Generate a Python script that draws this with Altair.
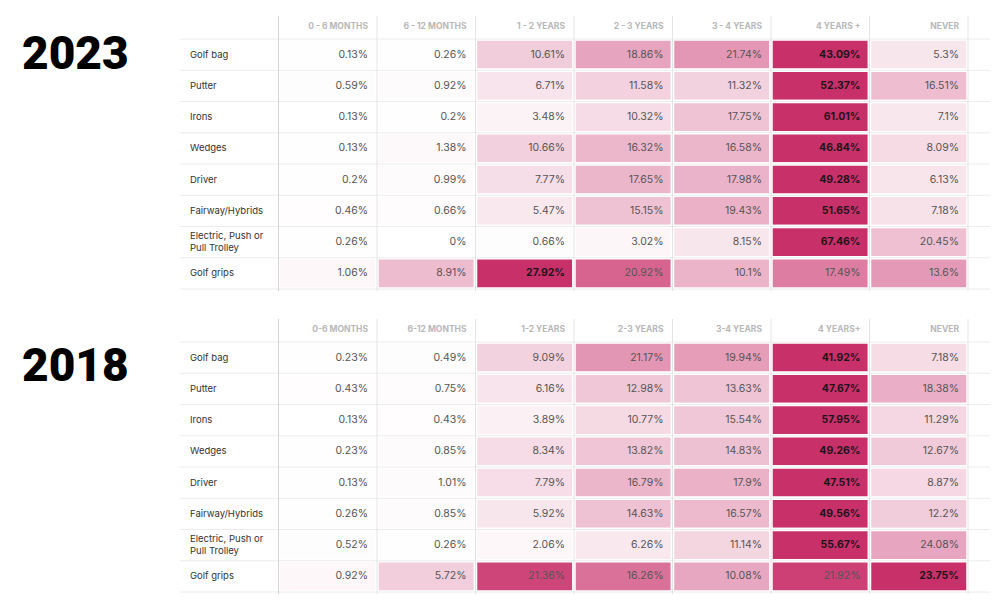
import altair as alt
import pandas as pd

# ---------------- data ----------------
items = ["Golf bag", "Putter", "Irons", "Wedges", "Driver", "Fairway/Hybrids",
         "Electric, Push or Pull Trolley", "Golf grips"]
item_labels = ["Golf bag", "Putter", "Irons", "Wedges", "Driver", "Fairway/Hybrids",
               "Electric, Push or\nPull Trolley", "Golf grips"]

cols_2023 = ["0 - 6 MONTHS", "6 - 12 MONTHS", "1 - 2 YEARS", "2 - 3 YEARS",
             "3 - 4 YEARS", "4 YEARS +", "NEVER"]
cols_2018 = ["0-6 MONTHS", "6-12 MONTHS", "1-2 YEARS", "2-3 YEARS",
             "3-4 YEARS", "4 YEARS+", "NEVER"]

# 2023 (percent of respondents)
golf_bag_2023 = [0.13, 0.26, 10.61, 18.86, 21.74, 43.09, 5.3]
putter_2023 = [0.59, 0.92, 6.71, 11.58, 11.32, 52.37, 16.51]
irons_2023 = [0.13, 0.2, 3.48, 10.32, 17.75, 61.01, 7.1]
wedges_2023 = [0.13, 1.38, 10.66, 16.32, 16.58, 46.84, 8.09]
driver_2023 = [0.2, 0.99, 7.77, 17.65, 17.98, 49.28, 6.13]
fairway_2023 = [0.46, 0.66, 5.47, 15.15, 19.43, 51.65, 7.18]
trolley_2023 = [0.26, 0, 0.66, 3.02, 8.15, 67.46, 20.45]
grips_2023 = [1.06, 8.91, 27.92, 20.92, 10.1, 17.49, 13.6]

# 2018
golf_bag_2018 = [0.23, 0.49, 9.09, 21.17, 19.94, 41.92, 7.18]
putter_2018 = [0.43, 0.75, 6.16, 12.98, 13.63, 47.67, 18.38]
irons_2018 = [0.13, 0.43, 3.89, 10.77, 15.54, 57.95, 11.29]
wedges_2018 = [0.23, 0.85, 8.34, 13.82, 14.83, 49.26, 12.67]
driver_2018 = [0.13, 1.01, 7.79, 16.79, 17.9, 47.51, 8.87]
fairway_2018 = [0.26, 0.85, 5.92, 14.63, 16.57, 49.56, 12.2]
trolley_2018 = [0.52, 0.26, 2.06, 6.26, 11.14, 55.67, 24.08]
grips_2018 = [0.92, 5.72, 21.36, 16.26, 10.08, 21.92, 23.75]

rows_2023 = [golf_bag_2023, putter_2023, irons_2023, wedges_2023,
             driver_2023, fairway_2023, trolley_2023, grips_2023]
rows_2018 = [golf_bag_2018, putter_2018, irons_2018, wedges_2018,
             driver_2018, fairway_2018, trolley_2018, grips_2018]

# ---------------- layout / style ----------------
W = 788
H = 250
LABEL = "label"
FONT = "Inter"


def table(year, cols, rows, year_y):
    recs = []
    for it, vals in zip(items, rows):
        for c, v in zip(cols, vals):
            recs.append({"item": it, "col": c, "value": v, "txt": f"{v:g}%"})
    df = pd.DataFrame(recs)

    xdom = [LABEL] + cols
    xs = alt.Scale(domain=xdom, paddingInner=0, paddingOuter=0)
    ys = alt.Scale(domain=items, paddingInner=0, paddingOuter=0)

    base = (alt.Chart(df)
            .transform_joinaggregate(rowmax="max(value)", groupby=["item"])
            .transform_calculate(ratio="datum.value / datum.rowmax"))

    rect = base.mark_rect(stroke="white", strokeWidth=3.5).encode(
        x=alt.X("col:N", scale=xs, axis=None),
        y=alt.Y("item:N", scale=ys, axis=None),
        color=alt.Color("ratio:Q",
                        scale=alt.Scale(domain=[0, 1], range=["#ffffff", "#c8306a"],
                                        interpolate="rgb"),
                        legend=None),
    )

    vr = alt.Chart(pd.DataFrame({"col": cols})).mark_rule(strokeWidth=1).encode(
        x=alt.X("col:N", bandPosition=0, scale=xs, axis=None),
        y=alt.value(-23), y2=alt.value(H + 2),
        color=alt.condition(f"datum.col == '{cols[0]}'", alt.value("#d4d4d4"),
                            alt.value("#e4e4e4")),
    )
    vr_end = alt.Chart(pd.DataFrame({"col": [cols[-1]]})).mark_rule(
        strokeWidth=1, color="#e4e4e4").encode(
        x=alt.X("col:N", bandPosition=1, scale=xs, axis=None),
        y=alt.value(-23), y2=alt.value(H + 2),
    )

    hr = alt.Chart(pd.DataFrame({"item": items})).mark_rule(
        strokeWidth=1, color="#ececec").encode(
        y=alt.Y("item:N", bandPosition=0, scale=ys, axis=None),
        x=alt.value(0), x2=alt.value(W + 22),
    )
    hr_end = alt.Chart(pd.DataFrame({"item": [items[-1]]})).mark_rule(
        strokeWidth=1, color="#ececec").encode(
        y=alt.Y("item:N", bandPosition=1, scale=ys, axis=None),
        x=alt.value(0), x2=alt.value(W + 22),
    )

    header = alt.Chart(pd.DataFrame({"col": cols})).mark_text(
        align="right", baseline="middle", dx=-9, fontSize=8.5, fontWeight="bold",
        color="#b8b8b8", font=FONT).encode(
        x=alt.X("col:N", bandPosition=1, scale=xs, axis=None),
        y=alt.value(-13),
        text="col:N",
    )

    lab_df = pd.DataFrame({"item": items, "lab": item_labels,
                           "col": [LABEL] * len(items)})
    lab_df["multi"] = lab_df["lab"].str.contains("\n")
    labels_one = alt.Chart(lab_df[~lab_df["multi"]]).mark_text(
        align="left", baseline="middle", dx=10, fontSize=9.5, color="#333333",
        font=FONT).encode(
        x=alt.X("col:N", bandPosition=0, scale=xs, axis=None),
        y=alt.Y("item:N", scale=ys, axis=None),
        text="lab:N",
    )
    labels_two = alt.Chart(lab_df[lab_df["multi"]]).mark_text(
        align="left", baseline="middle", dx=10, dy=-6, fontSize=9.5, color="#333333",
        lineBreak="\n", lineHeight=12, font=FONT).encode(
        x=alt.X("col:N", bandPosition=0, scale=xs, axis=None),
        y=alt.Y("item:N", scale=ys, axis=None),
        text="lab:N",
    )

    nums = base.transform_filter("datum.value < datum.rowmax").mark_text(
        align="right", baseline="middle", dx=-9, fontSize=10.5, color="#555555",
        font=FONT).encode(
        x=alt.X("col:N", bandPosition=1, scale=xs, axis=None),
        y=alt.Y("item:N", scale=ys, axis=None),
        text="txt:N",
    )
    nums_max = base.transform_filter("datum.value == datum.rowmax").mark_text(
        align="right", baseline="middle", dx=-9, fontSize=10.5, fontWeight="bold",
        color="#1e1418", font=FONT).encode(
        x=alt.X("col:N", bandPosition=1, scale=xs, axis=None),
        y=alt.Y("item:N", scale=ys, axis=None),
        text="txt:N",
    )

    year_txt = alt.Chart(pd.DataFrame({"year": [year]})).mark_text(
        align="left", baseline="middle", fontSize=46, fontWeight=900,
        font="Roboto", color="#000000").encode(
        x=alt.value(-158), y=alt.value(year_y), text="year:N",
    )

    return alt.layer(rect, hr, hr_end, vr, vr_end, header, labels_one, labels_two,
                     nums, nums_max, year_txt).properties(width=W, height=H)


t23 = table("2023", cols_2023, rows_2023, 16)
t18 = table("2018", cols_2018, rows_2018, 25)

chart = (alt.vconcat(t23, t18, spacing=26)
         .properties(padding={"left": 14, "top": 7, "right": 0, "bottom": 0})
         .configure_view(stroke=None))

chart.save("out.html", embed_options={"renderer": "svg", "actions": False})
